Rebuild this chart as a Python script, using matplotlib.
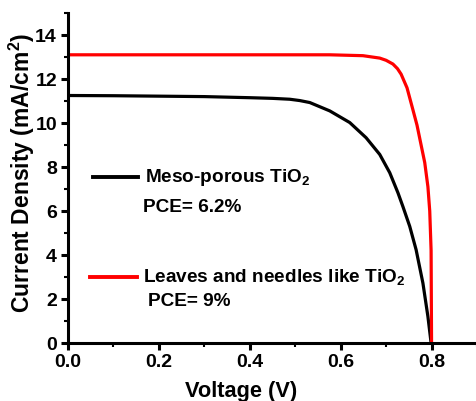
import matplotlib
matplotlib.use("Agg")
import matplotlib.pyplot as plt
from matplotlib.lines import Line2D
from matplotlib.ticker import MultipleLocator

plt.rcParams['font.family'] = ['Liberation Sans', 'DejaVu Sans']
plt.rcParams['font.weight'] = 'bold'
plt.rcParams['mathtext.fontset'] = 'custom'
plt.rcParams['mathtext.rm'] = 'Liberation Sans'
plt.rcParams['mathtext.bf'] = 'Liberation Sans:bold'

# Data
meso_v = [0, 0.1, 0.2, 0.3, 0.4, 0.45, 0.488, 0.51, 0.532, 0.576, 0.62, 0.656, 0.686, 0.708, 0.726,
          0.737, 0.752, 0.766, 0.781, 0.792, 0.799]
meso_j = [11.25, 11.24, 11.22, 11.2, 11.15, 11.12, 11.08, 11.02, 10.93, 10.55, 10.02, 9.33, 8.57, 7.74, 6.83,
          6.2, 5.3, 4.24, 2.72, 1.2, 0.0]
leaf_v = [0, 0.2, 0.4, 0.5, 0.576, 0.649, 0.686, 0.70, 0.715, 0.725, 0.733, 0.746, 0.759, 0.768, 0.777,
          0.785, 0.792, 0.796, 0.799, 0.8]
leaf_j = [13.1, 13.1, 13.1, 13.1, 13.1, 13.06, 12.95, 12.85, 12.68, 12.47, 12.22, 11.6, 10.6, 9.9, 9.0,
          8.2, 7.1, 6.0, 4.2, 0.0]

xtick_vals = [0, 0.2, 0.4, 0.6, 0.8]
xtick_labels = ['0.0', '0.2', '0.4', '0.6', '0.8']
ytick_vals = [0, 2, 4, 6, 8, 10, 12, 14]

meso_label = "Meso-porous TiO$_\\mathregular{2}$"
meso_pce = "PCE= 6.2%"
leaf_label = "Leaves and needles like TiO$_\\mathregular{2}$"
leaf_pce = "PCE= 9%"

W, H = 477, 401
fig = plt.figure(figsize=(W/100, H/100), dpi=100)
ax = fig.add_axes([68/W, 1-343/H, (477-68)/W, (343-13)/H])

ax.plot(meso_v, meso_j, color='black', lw=2.3, solid_joinstyle='round')
ax.plot(leaf_v, leaf_j, color='#ff0000', lw=2.3, solid_joinstyle='round')

ax.set_xlim(0, 0.9)
ax.set_ylim(0, 15)
ax.set_xticks(xtick_vals)
ax.set_xticklabels(xtick_labels)
ax.set_yticks(ytick_vals)
ax.xaxis.set_minor_locator(MultipleLocator(0.1))
ax.yaxis.set_minor_locator(MultipleLocator(1))

for s in ['top', 'right']:
    ax.spines[s].set_visible(False)
for s in ['left', 'bottom']:
    ax.spines[s].set_linewidth(2.2)
ax.tick_params(which='major', direction='out', length=5, width=2.2, labelsize=14, pad=3)
ax.tick_params(which='minor', direction='out', length=3, width=1.5)

ax.set_xlabel('Voltage (V)', fontsize=15.7, fontweight='bold', va='center')
ax.xaxis.set_label_coords((241 - 68) / 409, (343 - 392) / 330)
ax.set_ylabel('Current Density (mA/cm$^\\mathregular{2}$)', fontsize=16.5, fontweight='bold', va='center')
ax.yaxis.set_label_coords((22 - 68) / 409, (343 - 173) / 330)

def fx(px):
    return px / W
def fy(py):
    return 1 - py / H

fig.add_artist(Line2D([fx(93), fx(138)], [fy(177), fy(177)], color='black', lw=2.8))
fig.text(fx(145), fy(178), meso_label, fontsize=13.7, fontweight='bold', va='center', ha='left')
fig.text(fx(143), fy(207), meso_pce, fontsize=13.7, fontweight='bold', va='center', ha='left')
fig.add_artist(Line2D([fx(90), fx(137)], [fy(277), fy(277)], color='#ff0000', lw=2.8))
fig.text(fx(143), fy(278), leaf_label, fontsize=13.7, fontweight='bold', va='center', ha='left')
fig.text(fx(148), fy(302), leaf_pce, fontsize=13.7, fontweight='bold', va='center', ha='left')

fig.savefig('out.png', dpi=100)
